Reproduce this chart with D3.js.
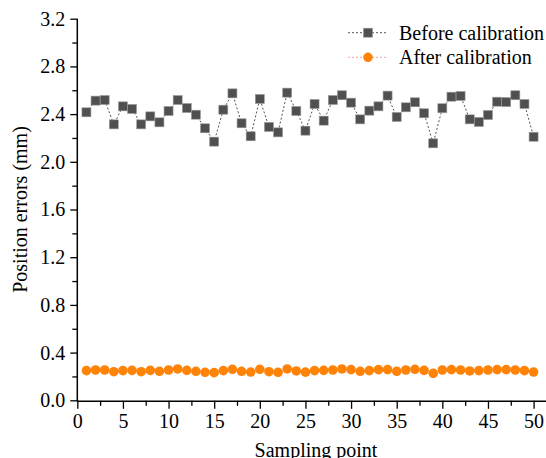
<!DOCTYPE html>
<html><head><meta charset="utf-8">
<script src="https://cdn.jsdelivr.net/npm/d3@7"></script>
<style>body{margin:0;background:#fff}svg{display:block}text{font-family:"Liberation Serif","Times New Roman",serif}</style>
</head><body>
<svg id="c" width="546" height="458"></svg>
<script>
const samplePoints = d3.range(1, 51);
const beforeCal = [2.415,2.513,2.518,2.314,2.465,2.443,2.314,2.381,2.331,2.426,2.518,2.451,2.395,2.281,2.169,2.437,2.574,2.323,2.214,2.527,2.292,2.247,2.580,2.426,2.261,2.485,2.345,2.518,2.558,2.496,2.356,2.429,2.465,2.555,2.376,2.457,2.499,2.407,2.155,2.449,2.546,2.552,2.356,2.334,2.392,2.504,2.501,2.558,2.485,2.210];
const afterCal = [0.249,0.254,0.254,0.240,0.249,0.251,0.240,0.251,0.243,0.254,0.263,0.251,0.243,0.235,0.232,0.249,0.260,0.243,0.237,0.260,0.240,0.235,0.263,0.246,0.236,0.249,0.251,0.254,0.263,0.257,0.243,0.249,0.257,0.257,0.243,0.254,0.260,0.251,0.226,0.254,0.257,0.254,0.246,0.249,0.254,0.257,0.257,0.254,0.249,0.237];
const xTicks = [0,5,10,15,20,25,30,35,40,45,50];
const yTicks = [0.0,0.4,0.8,1.2,1.6,2.0,2.4,2.8,3.2];
const seriesNames = ["Before calibration","After calibration"];

const svg = d3.select("#c");
const x = d3.scaleLinear().domain([0, 51.36]).range([77.3, 546]);
const y = d3.scaleLinear().domain([0, 3.2]).range([400.3, 18.7]);
const font = 20;

// minor ticks
const xMinor = d3.range(2.5, 51.36, 5);
const yMinor = d3.range(0.2, 3.2, 0.4);
svg.append("g").attr("transform","translate(0,400.8)")
  .call(d3.axisBottom(x).tickValues(xMinor).tickSize(5).tickFormat("").tickSizeOuter(0))
  .call(g=>g.select(".domain").remove())
  .call(g=>g.selectAll("line").attr("stroke","#000").attr("stroke-width",1.3));
svg.append("g").attr("transform","translate(77.3,0)")
  .call(d3.axisLeft(y).tickValues(yMinor).tickSize(5).tickFormat("").tickSizeOuter(0))
  .call(g=>g.select(".domain").remove())
  .call(g=>g.selectAll("line").attr("stroke","#000").attr("stroke-width",1.3));

// major axes
const xa = svg.append("g").attr("transform","translate(0,400.8)")
  .call(d3.axisBottom(x).tickValues(xTicks).tickSize(8).tickSizeOuter(0).tickPadding(5).tickFormat(d3.format("d")));
const ya = svg.append("g").attr("transform","translate(77.3,0)")
  .call(d3.axisLeft(y).tickValues(yTicks).tickSize(7).tickSizeOuter(0).tickPadding(5).tickFormat(d3.format(".1f")));
[xa, ya].forEach(g=>{
  g.select(".domain").attr("stroke","#000").attr("stroke-width",1.5);
  g.selectAll(".tick line").attr("stroke","#000").attr("stroke-width",1.3);
  g.selectAll("text").attr("font-size",font).attr("fill","#000").attr("font-family","Liberation Serif");
});
ya.select(".domain").attr("d","M0,401.5V18.7");

// axis titles
svg.append("text").attr("x",316).attr("y",457).attr("text-anchor","middle")
  .attr("font-size",font).text("Sampling point");
svg.append("text").attr("transform","translate(27,209.5) rotate(-90)").attr("text-anchor","middle")
  .attr("font-size",font).text("Position errors (mm)");

// after series
const lineA = d3.line().x((d,i)=>x(samplePoints[i])).y(d=>y(d));
svg.append("path").datum(afterCal).attr("d",lineA).attr("fill","none")
  .attr("stroke","#f4a0a0").attr("stroke-width",1).attr("stroke-dasharray","2,2");
svg.append("g").selectAll("circle").data(afterCal).join("circle")
  .attr("cx",(d,i)=>x(samplePoints[i])).attr("cy",d=>y(d)).attr("r",4.8)
  .attr("fill","#ff8307");

// before series
svg.append("path").datum(beforeCal).attr("d",lineA).attr("fill","none")
  .attr("stroke","#555").attr("stroke-width",1).attr("stroke-dasharray","2,2");
const s = 9;
svg.append("g").selectAll("rect").data(beforeCal).join("rect")
  .attr("x",(d,i)=>x(samplePoints[i])-s/2).attr("y",d=>y(d)-s/2)
  .attr("width",s).attr("height",s).attr("fill","#505050").attr("stroke","#9a9a9a").attr("stroke-width",0.6);

// legend
const lg = svg.append("g");
const rows = [32.7, 57.3];
lg.append("line").attr("x1",348).attr("x2",388).attr("y1",rows[0]).attr("y2",rows[0])
  .attr("stroke","#555").attr("stroke-dasharray","2,2");
lg.append("rect").attr("x",368-s/2).attr("y",rows[0]-s/2).attr("width",s).attr("height",s)
  .attr("fill","#505050").attr("stroke","#9a9a9a").attr("stroke-width",0.6);
lg.append("line").attr("x1",348).attr("x2",388).attr("y1",rows[1]).attr("y2",rows[1])
  .attr("stroke","#f4a0a0").attr("stroke-dasharray","2,2");
lg.append("circle").attr("cx",368).attr("cy",rows[1]).attr("r",4.8).attr("fill","#ff8307");
seriesNames.forEach((n,i)=>{
  lg.append("text").attr("x",399).attr("y",rows[i]+7).attr("font-size",font).text(n);
});
</script>
</body></html>
